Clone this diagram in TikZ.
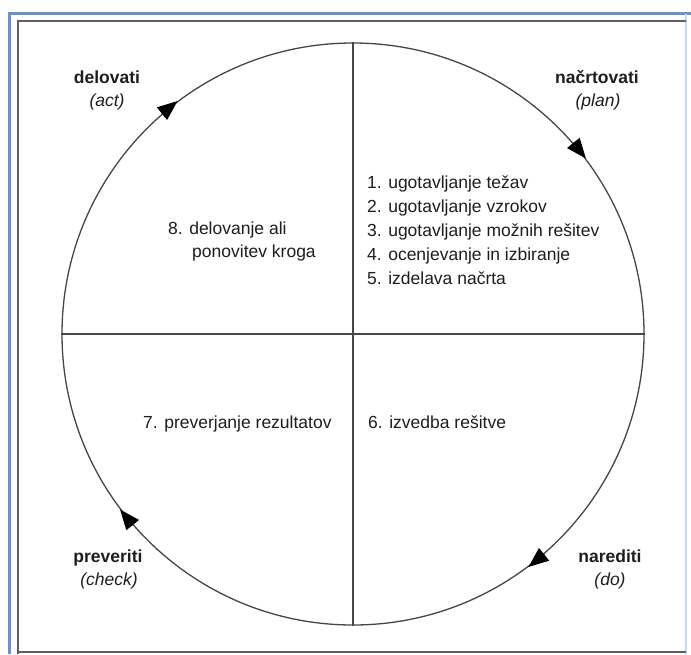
\documentclass[tikz,border=0pt]{standalone}
\usepackage{fontspec}
\setmainfont{Liberation Sans}
\usetikzlibrary{arrows.meta}
\definecolor{winblue}{RGB}{105,145,205}
\definecolor{frameline}{RGB}{95,95,95}
\definecolor{linecol}{RGB}{70,70,70}
\definecolor{txt}{RGB}{30,30,30}
\tikzset{
  lbl/.style={inner sep=0pt, anchor=base, text=txt, font=\fontsize{17.5}{23}\selectfont\bfseries},
  sub/.style={inner sep=0pt, anchor=base, text=txt, font=\fontsize{17.5}{23}\selectfont\itshape},
  item/.style={inner sep=0pt, anchor=base west, text=txt, font=\fontsize{17.5}{23}\selectfont},
  arrowline/.style={draw=linecol, line width=1.2pt, -{Triangle[length=20pt,width=16pt,color=black]}},
}
\begin{document}
\begin{tikzpicture}[x=1pt,y=-1pt]
\useasboundingbox (0,0) rectangle (691,654);
\fill[white] (0,0) rectangle (691,654);
% window frame
\draw[winblue, line width=2.5pt] (9.5,654) -- (9.5,13.5) -- (691,13.5);
\draw[winblue!35, line width=1.5pt] (686,13.5) -- (686,654);
\draw[frameline, line width=2pt] (18,654) -- (18,21) -- (686,21);
\draw[frameline, line width=2pt] (18,652) -- (686,652);
% circle and axes
\node[circle, draw=linecol, line width=1.3pt, minimum size=582pt, inner sep=0pt] (c) at (353,334) {};
\draw[linecol, line width=1.3pt] (c.north) -- (c.south);
\draw[linecol, line width=1.3pt] (c.west) -- (c.east);
% arrows (clockwise)
\draw[arrowline] (c.41.5) -- (c.37);
\draw[arrowline] (c.131.5) -- (c.127);
\draw[arrowline] (c.221.5) -- (c.217);
\draw[arrowline] (c.311.5) -- (c.307);
% corner labels
\node[lbl] (act) at (107,83) {delovati};
\node[sub] (acte) at (107,106) {(act)};
\node[lbl] (plan) at (597,83) {načrtovati};
\node[sub] (plane) at (598,106) {(plan)};
\node[lbl] (do) at (610,562) {narediti};
\node[sub] (doe) at (610,585) {(do)};
\node[lbl] (check) at (108,562) {preveriti};
\node[sub] (checke) at (109,585) {(check)};
% quadrant texts
\node[item] (p1) at (367,188) {1. ugotavljanje težav};
\node[item] (p2) at (367,212) {2. ugotavljanje vzrokov};
\node[item] (p3) at (367,236) {3. ugotavljanje možnih rešitev};
\node[item] (p4) at (367,260) {4. ocenjevanje in izbiranje};
\node[item] (p5) at (367,284) {5. izdelava načrta};
\node[item] (a1) at (168,234) {8. delovanje ali};
\node[item] (a2) at (192,257) {ponovitev kroga};
\node[item] (c1) at (143,428) {7. preverjanje rezultatov};
\node[item] (d1) at (368,428) {6. izvedba rešitve};
\end{tikzpicture}
\end{document}
